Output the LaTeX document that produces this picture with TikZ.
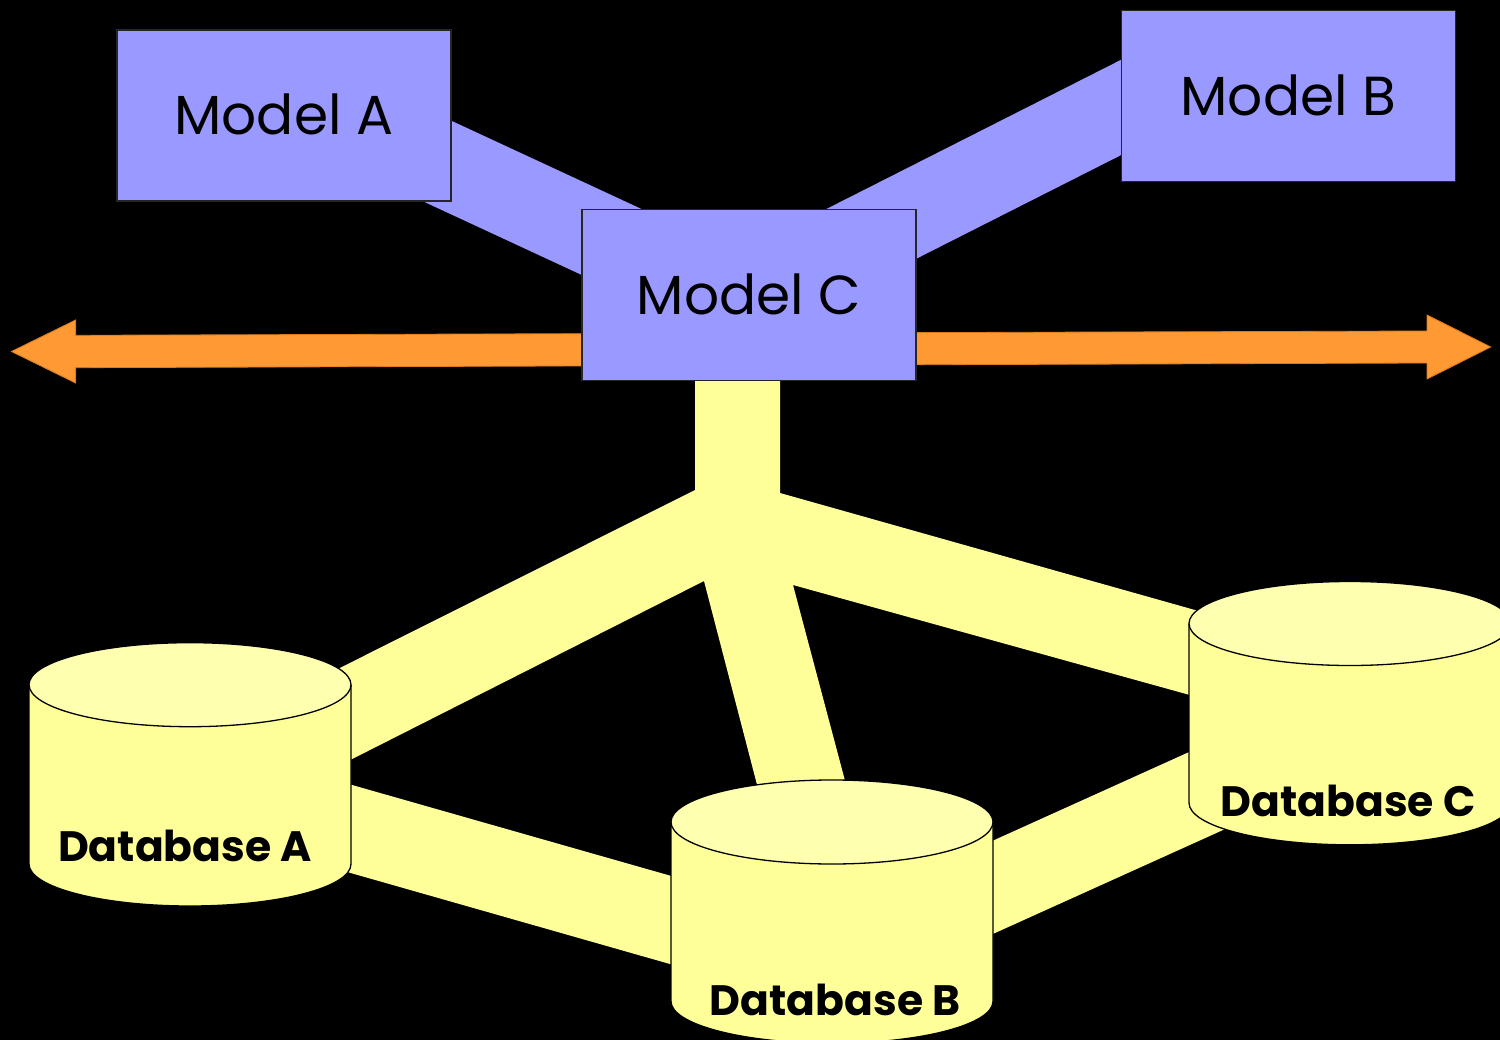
\documentclass[tikz,border=0pt]{standalone}
\usepackage{fontspec}
\setmainfont{Poppins}
\definecolor{lav}{HTML}{9999FF}
\definecolor{ylw}{HTML}{FFFF99}
\definecolor{ylwtop}{HTML}{FFFFB0}
\definecolor{org}{HTML}{FF9933}
\definecolor{orgdark}{HTML}{D97A1F}
\newcommand\dbcyl[3]{% #1 name, #2 cx, #3 top ellipse cy
  \node[minimum width=322pt, minimum height=263pt, inner sep=0pt] (#1) at (#2,{#3+89.7}) {};
  \fill[ylw] ({#2-161},#3) -- ({#2-161},{#3+179.3}) arc[start angle=180,end angle=360,x radius=161pt,y radius=42pt] -- ({#2+161},#3) -- cycle;
  \draw[cylline] ({#2-161},#3) -- ({#2-161},{#3+179.3}) arc[start angle=180,end angle=360,x radius=161pt,y radius=42pt] -- ({#2+161},#3);
  \filldraw[fill=ylwtop, cylline] (#2,#3) ellipse[x radius=161pt, y radius=42pt];
}
\begin{document}
\begin{tikzpicture}[x=1pt,y=-1pt,
  mbox/.style={draw=black!85, line width=1.5pt, fill=lav, minimum width=334pt, minimum height=171pt, inner sep=0pt, text height=39pt, text depth=0pt, font=\fontsize{55}{55}\selectfont},
  lband/.style={draw=lav, line width=85pt},
  yband/.style={draw=ylw, line width=85pt},
  cylline/.style={draw=black, line width=1.3pt},
  dbtext/.style={font=\bfseries\fontsize{42.5}{42.5}\selectfont, anchor=base, inner sep=0pt},
]
\fill[black] (0,0) rectangle (1500,1040);
\useasboundingbox (0,0) rectangle (1500,1040);
\clip (0,0) rectangle (1500,1040);

% lavender bands
\coordinate (ac1) at (380,134.5);
\coordinate (ac2) at (700,283);
\coordinate (bc1) at (1180,77.6);
\coordinate (bc2) at (800,270);
\draw[lband] (ac1) -- (ac2);
\draw[lband] (bc1) -- (bc2);

% orange double arrow
\coordinate (ltip) at (11.5,351.5);
\coordinate (rtip) at (1490.7,347);
\filldraw[fill=org, draw=orgdark, line width=0.8pt]
  (ltip) -- (75.6,320) -- (75.6,335.3) -- (1427,331) -- (1427,315) -- (rtip)
  -- (1427,379) -- (1427,363) -- (75.6,367.7) -- (75.6,383) -- cycle;

% yellow trunk and branches
\coordinate (jA) at (695,490);
\coordinate (jAB) at (704,581);
\coordinate (jBC) at (793,585);
\coordinate (jC) at (780,493);
\fill[ylw] (695,381) -- (jA) -- (250,713) -- (250,810.7) -- (jAB) -- (774,850)
  -- (863.4,850) -- (jBC) -- (1280,720) -- (1280,634) -- (jC) -- (780,381) -- cycle;

% database bands
\coordinate (ab1) at (190,783);
\coordinate (ab2) at (832,966);
\coordinate (bc3) at (832,960);
\coordinate (bc4) at (1350,726);
\draw[yband] (ab1) -- (ab2);
\draw[yband] (bc3) -- (bc4);

% cylinders
\dbcyl{dbA}{190}{684.7}
\dbcyl{dbB}{832}{822}
\dbcyl{dbC}{1350}{623.5}
\node[dbtext] (dbAl) at (185,861) {Database A};
\node[dbtext] (dbBl) at (835,1015) {Database B};
\node[dbtext] (dbCl) at (1348,816) {Database C};

% model boxes
\node[mbox] (mA) at (284,115.5) {Model A};
\node[mbox] (mB) at (1288.5,96) {Model B};
\node[mbox] (mC) at (749,295) {Model C};
\end{tikzpicture}
\end{document}
